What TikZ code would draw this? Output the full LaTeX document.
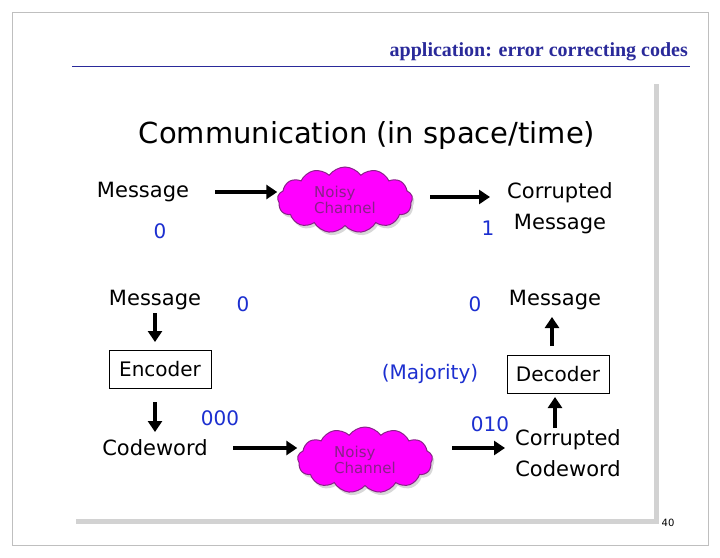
\documentclass[tikz,border=0pt]{standalone}
\usepackage{fontspec}
\setmainfont{Liberation Serif}
\newfontfamily\vf{DejaVu Sans}
\usetikzlibrary{shapes.symbols,arrows.meta,shadows}
\definecolor{ttl}{HTML}{2A2A9A}
\definecolor{bl}{HTML}{1C2FD0}
\definecolor{cl}{HTML}{FF00FF}
\definecolor{clb}{HTML}{8A208A}
\newcommand\cloudtxt{\vf\fontsize{15}{19}\selectfont\color{clb}}
\tikzset{
 lbl/.style={font=\vf\fontsize{21}{31}\selectfont,inner sep=0pt,align=center},
 num/.style={font=\vf\fontsize{20}{24}\selectfont,text=bl,inner sep=0pt},
 boxn/.style={draw,line width=1pt,font=\vf\fontsize{20}{24}\selectfont,minimum width=102pt,minimum height=38pt,inner sep=0pt},
 arr/.style={-{Triangle[length=11pt,width=14pt]},line width=4pt},
 noisy/.style={cloud,cloud puffs=13,cloud puff arc=110,aspect=2.2,fill=cl,draw=clb,line width=1pt,
   minimum width=135pt,minimum height=66pt,drop shadow={shadow xshift=2pt,shadow yshift=-3pt,fill=gray!60},
   align=left,inner sep=0pt}
}
\begin{document}
\begin{tikzpicture}[x=1pt,y=-1pt]
\useasboundingbox (0,0) rectangle (720,557);
\fill[white] (0,0) rectangle (720,557);
\draw[gray!50] (12,12) rectangle (708,545);
\node[anchor=base east,font=\bfseries\fontsize{20}{24}\selectfont,text=ttl,inner sep=0pt] (title) at (688,56) {application: error correcting codes};
\draw[ttl,line width=0.8pt] (72,66) -- (690,66);
\fill[gray!35] (76,84) rectangle (659,524);
\fill[white] (72,80) rectangle (654,519);
\node[lbl,font=\vf\fontsize{29}{34}\selectfont] (head) at (367,135) {Communication (in space/time)};
\node[lbl] (m1) at (143,192) {Message};
\node[num] (z1) at (160,231) {0};
\node[noisy] (c1) at (345,200) {\cloudtxt Noisy\\\cloudtxt Channel};
\node[lbl] (cm1) at (560,208) {Corrupted\\Message};
\node[num] (o1) at (488,228) {1};
\draw[arr] (215,192) -- (c1.west|-m1);
\draw[arr] (430,197) -- (490,197);
\node[lbl] (m2) at (155,300) {Message};
\node[num] (z2) at (243,304) {0};
\node[boxn] (enc) at (160,369) {Encoder};
\node[num] (t0) at (220,418) {000};
\node[lbl] (cw) at (155,448) {Codeword};
\node[noisy] (c2) at (365,460) {\cloudtxt Noisy\\\cloudtxt Channel};
\node[lbl] (cc) at (568,453) {Corrupted\\Codeword};
\node[num] (t1) at (490,424) {010};
\node[boxn] (dec) at (558,374) {Decoder};
\node[num] (maj) at (430,374) {(Majority)};
\node[lbl] (m3) at (555,300) {Message};
\node[num] (z3) at (475,304) {0};
\draw[arr] (155,313) -- (155,342);
\draw[arr] (155,402) -- (155,432);
\draw[arr] (233,448) -- (c2.west|-cw);
\draw[arr] (452,448) -- (505,448);
\draw[arr] (555,428) -- (555,397);
\draw[arr] (552,346) -- (552,317);
\node[font=\vf\fontsize{10}{12}\selectfont,inner sep=0pt] (pg) at (668,523) {40};
\end{tikzpicture}
\end{document}
